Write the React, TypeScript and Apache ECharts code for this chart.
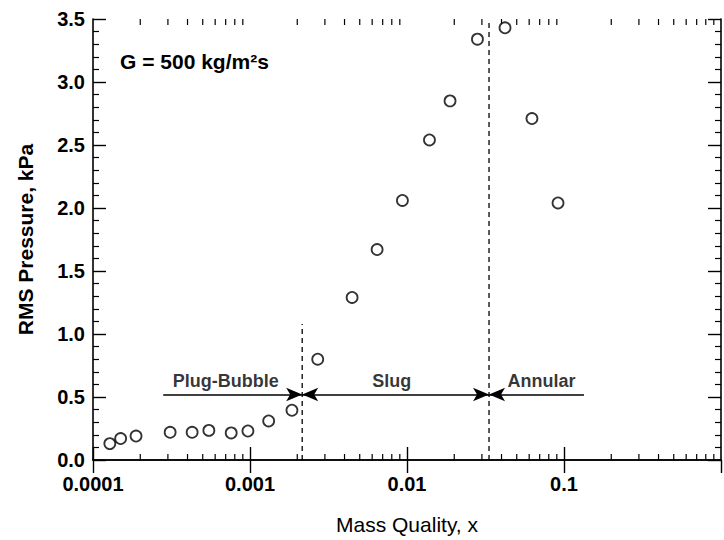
import React, { useEffect, useRef } from "react";
import * as echarts from "echarts";

// Mass quality x (log scale) and RMS pressure (kPa)
const massQuality = [
  1.28e-4, 1.5e-4, 1.88e-4, 3.1e-4, 4.28e-4, 5.47e-4, 7.59e-4, 9.7e-4,
  1.315e-3, 1.85e-3, 2.7e-3, 4.47e-3, 6.45e-3, 9.35e-3, 1.39e-2, 1.88e-2,
  2.81e-2, 4.21e-2, 6.25e-2, 9.16e-2,
];
const rmsPressure = [
  0.13, 0.17, 0.19, 0.22, 0.22, 0.235, 0.215, 0.23, 0.31, 0.395, 0.8, 1.29,
  1.67, 2.06, 2.54, 2.85, 3.34, 3.43, 2.71, 2.04,
];

// x tick labels (decades)
const xTickLabels = ["0.0001", "0.001", "0.01", "0.1"];
const xMin = 0.0001;
const xMax = 1;
const yMin = 0;
const yMax = 3.5;
const yInterval = 0.5;

// flow regime transitions
const plugSlugX = 2.15e-3;
const plugSlugTop = 1.08;
const slugAnnularX = 3.33e-2;
const arrowY = 0.52;
const plugArrowStart = 2.8e-4;
const annularArrowEnd = 0.134;

const regimeNames = ["Plug-Bubble", "Slug", "Annular"];
const regimeLabelX = [7.0e-4, 8.0e-3, 7.2e-2];

const annotationText = "G = 500 kg/m²s";

const FONT = "Liberation Sans, Arial, Helvetica, sans-serif";

export default function App() {
  const ref = useRef<HTMLDivElement>(null);

  useEffect(() => {
    if (!ref.current) return;
    const chart = echarts.init(ref.current, undefined, { renderer: "svg" });

    const minorX: number[] = [];
    for (let e = -4; e < 0; e++) {
      for (let m = 2; m <= 9; m++) minorX.push(m * Math.pow(10, e));
    }

    const axisLine = { show: true, lineStyle: { color: "#000", width: 1.6 } };
    const majorTick = { show: true, inside: true, length: 13, lineStyle: { color: "#000", width: 1.4 } };
    const yMinor = { show: true, splitNumber: 5, length: 6, lineStyle: { color: "#000", width: 1.2 } };

    const option: any = {
      animation: false,
      backgroundColor: "#fff",
      grid: { left: 93, right: 3, top: 19, bottom: 78, containLabel: false },
      xAxis: [
        {
          type: "log",
          logBase: 10,
          min: xMin,
          max: xMax,
          position: "bottom",
          name: "Mass Quality, x",
          nameLocation: "middle",
          nameGap: 54,
          nameTextStyle: { fontFamily: FONT, fontSize: 21, color: "#000" },
          axisLine,
          axisTick: majorTick,
          splitLine: { show: false },
          axisLabel: {
            show: true,
            margin: 14,
            showMaxLabel: false,
            fontFamily: FONT,
            fontSize: 20,
            fontWeight: "bold",
            color: "#000",
            formatter: (v: number) => {
              const idx = Math.round(Math.log10(v)) + 4;
              return xTickLabels[idx] ?? "";
            },
          },
        },
        {
          type: "log",
          logBase: 10,
          min: xMin,
          max: xMax,
          position: "top",
          axisLine,
          axisTick: majorTick,
          axisLabel: { show: false },
          splitLine: { show: false },
        },
      ],
      yAxis: [
        {
          type: "value",
          min: yMin,
          max: yMax,
          interval: yInterval,
          position: "left",
          name: "RMS Pressure, kPa",
          nameLocation: "middle",
          nameGap: 57,
          nameTextStyle: { fontFamily: FONT, fontSize: 21, fontWeight: "bold", color: "#000" },
          axisLine,
          axisTick: majorTick,
          minorTick: yMinor,
          splitLine: { show: false },
          minorSplitLine: { show: false },
          axisLabel: {
            margin: 8,
            fontFamily: FONT,
            fontSize: 20,
            fontWeight: "bold",
            color: "#000",
            formatter: (v: number) => v.toFixed(1),
          },
        },
        {
          type: "value",
          min: yMin,
          max: yMax,
          interval: yInterval,
          position: "right",
          axisLine,
          axisTick: majorTick,
          minorTick: yMinor,
          splitLine: { show: false },
          axisLabel: { show: false },
        },
      ],
      graphic: [
        {
          type: "text",
          left: 120,
          top: 51,
          style: {
            text: annotationText,
            fontFamily: FONT,
            fontSize: 21,
            fontWeight: "bold",
            fill: "#000",
          },
        },
      ],
      series: [
        {
          type: "custom",
          name: "minorTicks",
          silent: true,
          xAxisIndex: 0,
          yAxisIndex: 0,
          data: minorX.map((v) => [v, 0]),
          renderItem: (params: any, api: any) => {
            const v = api.value(0);
            const b = api.coord([v, yMin]);
            const t = api.coord([v, yMax]);
            const st = { stroke: "#000", lineWidth: 1.2 };
            return {
              type: "group",
              children: [
                { type: "line", shape: { x1: b[0], y1: b[1], x2: b[0], y2: b[1] - 6 }, style: st },
                { type: "line", shape: { x1: t[0], y1: t[1], x2: t[0], y2: t[1] + 6 }, style: st },
              ],
            };
          },
          clip: false,
          z: 3,
        },
        {
          type: "line",
          name: "plugSlug",
          silent: true,
          data: [
            [plugSlugX, yMin],
            [plugSlugX, plugSlugTop],
          ],
          symbol: "none",
          lineStyle: { color: "#000", width: 1.3, type: [5, 4] },
          z: 2,
        },
        {
          type: "line",
          name: "slugAnnular",
          silent: true,
          data: [
            [slugAnnularX, yMin],
            [slugAnnularX, yMax],
          ],
          symbol: "none",
          lineStyle: { color: "#000", width: 1.3, type: [5, 4] },
          z: 2,
        },
        {
          type: "scatter",
          name: "RMS",
          data: massQuality.map((x, i) => [x, rmsPressure[i]]),
          symbol: "circle",
          symbolSize: 11,
          itemStyle: { color: "#fff", borderColor: "#000", borderWidth: 1.8 },
          z: 5,
          markLine: {
            silent: true,
            animation: false,
            symbolSize: [10, 16],
            label: { show: false },
            lineStyle: { color: "#000", width: 1.6, type: "solid" },
            data: [
              [
                { coord: [plugArrowStart, arrowY], symbol: "none" },
                { coord: [plugSlugX, arrowY], symbol: "arrow" },
              ],
              [
                { coord: [slugAnnularX, arrowY], symbol: "arrow" },
                { coord: [plugSlugX, arrowY], symbol: "arrow" },
              ],
              [
                { coord: [annularArrowEnd, arrowY], symbol: "none" },
                { coord: [slugAnnularX, arrowY], symbol: "arrow" },
              ],
            ],
          },
        },
        {
          type: "scatter",
          name: "regimes",
          silent: true,
          data: regimeNames.map((n, i) => ({ value: [regimeLabelX[i], arrowY], name: n })),
          symbolSize: 0,
          itemStyle: { color: "transparent" },
          label: {
            show: true,
            position: "top",
            distance: 4,
            formatter: (p: any) => p.name,
            fontFamily: FONT,
            fontSize: 18,
            fontWeight: "bold",
            color: "#000",
          },
          z: 6,
        },
      ],
    };

    chart.setOption(option);
    return () => chart.dispose();
  }, []);

  return (
    <div
      ref={ref}
      style={{ position: "fixed", left: 0, top: 0, width: 724, height: 540, background: "#fff" }}
    />
  );
}
